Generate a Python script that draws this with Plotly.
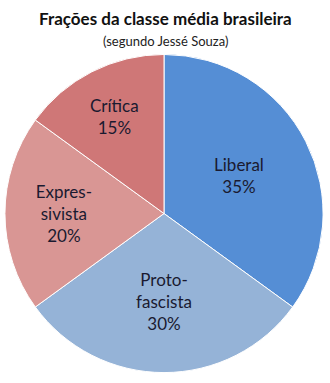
import plotly.graph_objects as go

labels = ["Liberal", "Proto-fascista", "Expressivista", "Crítica"]
label_text = ["Liberal", "Proto-<br>fascista", "Expres-<br>sivista", "Crítica"]
values = [35, 30, 20, 15]
colors = ["#558ED5", "#95B3D7", "#D99694", "#CF7777"]

texts = [f"{t}<br>{v}%" for t, v in zip(label_text, values)]

fig = go.Figure(go.Pie(
    labels=labels,
    values=values,
    text=texts,
    textinfo="text",
    textposition="inside",
    insidetextorientation="horizontal",
    sort=False,
    direction="clockwise",
    rotation=0,
    marker=dict(colors=colors, line=dict(color="white", width=1)),
    textfont=dict(family="Lato", size=17, color="#1a1a30"),
    hoverinfo="label+percent",
    domain=dict(x=[0.015, 0.979], y=[0.026, 0.859]),
    showlegend=False,
))

fig.update_layout(
    width=330, height=383,
    margin=dict(l=0, r=0, t=0, b=0),
    paper_bgcolor="white",
    annotations=[
        dict(text="<b>Frações da classe média brasileira</b>", x=0.5, y=1 - 18/383,
             xref="paper", yref="paper", showarrow=False, yanchor="middle",
             font=dict(family="Lato", size=17, color="#111")),
        dict(text="(segundo Jessé Souza)", x=0.5, y=1 - 41/383,
             xref="paper", yref="paper", showarrow=False, yanchor="middle",
             font=dict(family="Lato", size=13, color="#222")),
    ],
)

fig.write_html("out.html")
